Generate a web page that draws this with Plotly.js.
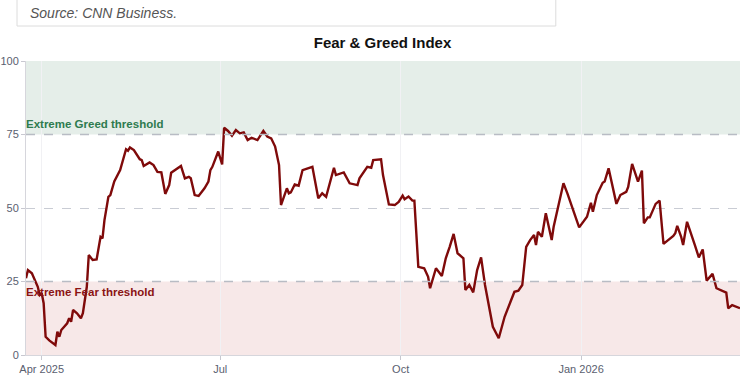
<!DOCTYPE html>
<html>
<head>
<meta charset="utf-8">
<script src="https://cdn.plot.ly/plotly-3.0.1.min.js"></script>
<style>html,body{margin:0;padding:0;background:#fff;}#chart{width:750px;height:384px;}</style>
</head>
<body>
<div id="chart"></div>
<script>
const dates = [
 '2025-03-24','2025-03-25','2025-03-27','2025-03-30','2025-03-31','2025-04-01','2025-04-02','2025-04-03','2025-04-05','2025-04-08',
 '2025-04-09','2025-04-10','2025-04-11','2025-04-14','2025-04-15','2025-04-16','2025-04-17','2025-04-19','2025-04-21','2025-04-22',
 '2025-04-24','2025-04-25','2025-04-27','2025-04-29','2025-05-01','2025-05-02','2025-05-03','2025-05-05','2025-05-06','2025-05-08',
 '2025-05-11','2025-05-13','2025-05-14','2025-05-15','2025-05-16','2025-05-18','2025-05-21','2025-05-22','2025-05-23','2025-05-26',
 '2025-05-28','2025-05-30','2025-06-01','2025-06-03','2025-06-05','2025-06-06','2025-06-11','2025-06-13','2025-06-15','2025-06-16',
 '2025-06-18','2025-06-20','2025-06-23','2025-06-25','2025-06-26','2025-06-27','2025-06-30','2025-07-02','2025-07-03','2025-07-05',
 '2025-07-07','2025-07-09','2025-07-11','2025-07-13','2025-07-15','2025-07-17','2025-07-20','2025-07-23','2025-07-25','2025-07-27',
 '2025-07-29','2025-07-31','2025-08-01','2025-08-04','2025-08-05','2025-08-06','2025-08-08','2025-08-10','2025-08-12','2025-08-17',
 '2025-08-20','2025-08-22','2025-08-24','2025-08-28','2025-08-29','2025-09-02','2025-09-05','2025-09-09','2025-09-10','2025-09-14',
 '2025-09-16','2025-09-17','2025-09-21','2025-09-22','2025-09-25','2025-09-28','2025-09-30','2025-10-02','2025-10-03','2025-10-05',
 '2025-10-07','2025-10-08','2025-10-10','2025-10-13','2025-10-15','2025-10-16','2025-10-19','2025-10-22','2025-10-24','2025-10-26',
 '2025-10-28','2025-10-30','2025-11-02','2025-11-03','2025-11-05','2025-11-07','2025-11-09','2025-11-11','2025-11-13','2025-11-17',
 '2025-11-20','2025-11-23','2025-11-28','2025-11-30','2025-12-02','2025-12-04','2025-12-06','2025-12-08','2025-12-09','2025-12-10',
 '2025-12-12','2025-12-14','2025-12-17','2025-12-18','2025-12-23','2025-12-25','2025-12-31','2026-01-04','2026-01-06','2026-01-07',
 '2026-01-09','2026-01-12','2026-01-13','2026-01-15','2026-01-19','2026-01-21','2026-01-24','2026-01-25','2026-01-27','2026-01-30',
 '2026-02-01','2026-02-02','2026-02-04','2026-02-05','2026-02-08','2026-02-10','2026-02-12','2026-02-17','2026-02-18','2026-02-19',
 '2026-02-21','2026-02-22','2026-02-24','2026-02-28','2026-03-02','2026-03-04','2026-03-06','2026-03-09','2026-03-11','2026-03-16',
 '2026-03-17','2026-03-19','2026-03-23'
];
const fearGreed = [
 26.1,28.9,27.8,23.2,20.4,21.0,17.6,6.2,4.9,3.4,
 7.9,6.2,8.5,10.8,12.5,11.3,15.3,14.2,12.5,14.2,
 23.2,34.0,32.3,32.5,40.2,39.7,45.9,53.8,54.4,59.0,
 62.9,67.4,70.0,69.5,70.6,69.7,66.6,66.3,64.3,65.5,
 64.6,62.3,62.1,54.8,57.8,62.0,64.3,60.1,60.6,60.1,
 54.4,54.1,56.7,59.0,62.9,64.0,69.2,64.8,77.3,76.2,
 74.6,76.5,75.4,75.7,73.1,73.9,73.1,76.2,74.3,73.7,
 70.9,64.6,51.0,56.7,55.0,55.3,58.0,57.6,62.9,64.0,
 53.3,55.0,53.8,63.7,61.2,62.1,58.4,57.8,60.1,64.0,
 63.7,66.3,66.6,61.2,51.2,51.0,52.1,54.2,53.0,53.9,
 52.5,52.5,30.0,29.5,26.6,22.7,29.5,26.9,32.9,36.8,
 41.2,34.6,32.9,22.1,23.8,21.3,28.9,33.2,23.8,9.6,
 5.7,13.0,21.5,21.9,23.8,36.8,39.1,40.8,37.4,41.9,
 40.2,48.2,39.1,43.6,58.4,55.0,43.4,47.0,51.8,48.7,
 54.4,58.6,59.0,63.5,51.4,54.4,55.5,57.2,65.0,59.0,
 62.7,44.8,46.8,46.8,51.4,52.5,37.8,40.5,41.4,43.9,
 40.2,37.4,45.3,37.4,33.2,35.9,25.3,27.6,22.7,21.2,
 15.9,17.0,15.9
];
const yTicks = [0, 25, 50, 75, 100];
const xTickVals = ['2025-04-01','2025-07-01','2025-10-01','2026-01-01'];
const xTickText = ['Apr 2025','Jul','Oct','Jan 2026'];
const greedThreshold = 75, fearThreshold = 25;
const xStart = dates[0], xEnd = dates[dates.length-1];

const trace = {
  x: dates, y: fearGreed, type: 'scatter', mode: 'lines',
  line: {color: '#7f0a0a', width: 2.4},
  hoverinfo: 'x+y', showlegend: false
};

const layout = {
  width: 750, height: 384,
  margin: {l: 26, r: 10, t: 61, b: 29},
  paper_bgcolor: '#fff', plot_bgcolor: '#fff',
  font: {family: 'Liberation Sans, Arial, sans-serif', color: '#555', size: 11},
  title: {text: '<b>Fear & Greed Index</b>', x: 0.51, xanchor: 'center', y: 0.888, yanchor: 'middle',
          font: {size: 15, color: '#111', family: 'Liberation Sans, Arial, sans-serif'}},
  xaxis: {
    type: 'date', range: [xStart, xEnd],
    tickvals: xTickVals, ticktext: xTickText,
    showgrid: true, gridcolor: '#f1f1f4', gridwidth: 1,
    showline: true, linecolor: '#d6d6dc', linewidth: 1,
    ticks: 'outside', ticklen: 4, tickcolor: '#c8c8d0',
    tickfont: {size: 11, color: '#5a6070'}, zeroline: false
  },
  yaxis: {
    range: [0, 100], tickvals: yTicks,
    showgrid: true, gridcolor: '#c9ccd4', griddash: 'dash', gridwidth: 1,
    showline: true, linecolor: '#d6d6dc', linewidth: 1,
    ticks: 'outside', ticklen: 4, tickcolor: '#c8c8d0',
    tickfont: {size: 11, color: '#5a6070'}, zeroline: false
  },
  shapes: [
    {type: 'rect', xref: 'paper', yref: 'y', x0: 0, x1: 1, y0: greedThreshold, y1: 100,
     fillcolor: '#e5eee9', line: {width: 0}, layer: 'below'},
    {type: 'rect', xref: 'paper', yref: 'y', x0: 0, x1: 1, y0: 0, y1: fearThreshold,
     fillcolor: '#f7e8e8', line: {width: 0}, layer: 'below'},
    {type: 'line', xref: 'paper', yref: 'y', x0: 0, x1: 1, y0: greedThreshold, y1: greedThreshold,
     line: {color: '#b8bcc4', width: 1.5, dash: 'dash'}},
    {type: 'line', xref: 'paper', yref: 'y', x0: 0, x1: 1, y0: fearThreshold, y1: fearThreshold,
     line: {color: '#b8bcc4', width: 1.5, dash: 'dash'}},
    {type: 'rect', xref: 'paper', yref: 'paper', x0: -0.0126, x1: 0.742, y0: 1.119, y1: 1.3,
     fillcolor: '#fff', line: {color: '#dcdcdc', width: 1}}
  ],
  annotations: [
    {xref: 'paper', yref: 'y', x: 0, y: greedThreshold, xanchor: 'left', yanchor: 'bottom', yshift: 3, xshift: -2,
     text: '<b>Extreme Greed threshold</b>', showarrow: false,
     font: {size: 11.5, color: '#2e7b4f'}},
    {xref: 'paper', yref: 'y', x: 0, y: fearThreshold, xanchor: 'left', yanchor: 'top', yshift: -2, xshift: -2,
     text: '<b>Extreme Fear threshold</b>', showarrow: false,
     font: {size: 11.5, color: '#8b1414'}},
    {xref: 'paper', yref: 'paper', x: 0.003, y: 1.163, xanchor: 'left', yanchor: 'middle',
     text: '<i>Source: CNN Business.</i>', showarrow: false,
     font: {size: 14, color: '#555'}}
  ]
};

Plotly.newPlot('chart', [trace], layout, {displayModeBar: false, staticPlot: true});
</script>
</body>
</html>
